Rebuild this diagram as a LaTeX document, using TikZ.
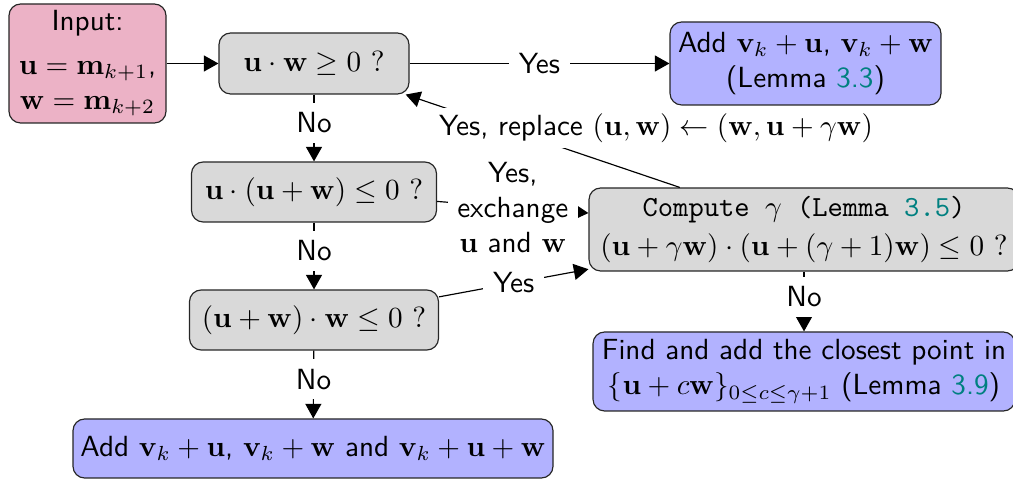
\documentclass[tikz,border=0pt]{standalone}
\usetikzlibrary{arrows.meta}
\definecolor{lemmacol}{rgb}{0,0.5,0.5}
\def\PX{0.343pt}
\begin{document}
\begin{tikzpicture}[x=0.343pt,y=-0.343pt,font=\sffamily,
  box/.style={draw=black!85, rounded corners=4pt, align=center, inner sep=0pt},
  inbox/.style={box, fill=purple!30},
  qbox/.style={box, fill=gray!30},
  abox/.style={box, fill=blue!30},
  lbl/.style={fill=white, font=\sffamily, align=center},
  arr/.style={-{Triangle[length=5pt,width=5.5pt]}}]
\useasboundingbox (0,0) rectangle (1013,479);
\node[inbox, minimum width=157*\PX, minimum height=119*\PX] (inp) at (87.5,63.5)
  {Input:\\[3pt] $\mathbf u=\mathbf m_{k+1}$,\\ $\mathbf w=\mathbf m_{k+2}$};
\node[qbox, minimum width=190*\PX, minimum height=61*\PX] (q1) at (314,63.5)
  {$\mathbf u\cdot\mathbf w\ge 0\ ?$};
\node[abox, minimum width=271*\PX, minimum height=83*\PX] (add1) at (805.5,63.5)
  {Add $\mathbf v_k+\mathbf u$, $\mathbf v_k+\mathbf w$\\ (Lemma \textcolor{lemmacol}{3.3})};
\node[qbox, minimum width=245*\PX, minimum height=60*\PX] (q2) at (314,192)
  {$\mathbf u\cdot(\mathbf u+\mathbf w)\le 0\ ?$};
\node[qbox, minimum width=249*\PX, minimum height=60*\PX] (q3) at (314,320)
  {$(\mathbf u+\mathbf w)\cdot\mathbf w\le 0\ ?$};
\node[abox, minimum width=480*\PX, minimum height=59*\PX] (add2) at (313,448.5)
  {Add $\mathbf v_k+\mathbf u$, $\mathbf v_k+\mathbf w$ and $\mathbf v_k+\mathbf u+\mathbf w$};
\node[qbox, minimum width=430*\PX, minimum height=83*\PX] (comp) at (804,229.5)
  {\texttt{Compute $\gamma$ (Lemma \textcolor{lemmacol}{3.5})}\\[1.5pt]
   $(\mathbf u+\gamma\mathbf w)\cdot(\mathbf u+(\gamma+1)\mathbf w)\le 0\ ?$};
\node[abox, minimum width=422*\PX, minimum height=79*\PX] (find) at (804,371.5)
  {Find and add the closest point in\\
   $\{\mathbf u+c\mathbf w\}_{0\le c\le\gamma+1}$ (Lemma \textcolor{lemmacol}{3.9})};
\draw[arr] (inp) -- (q1);
\draw[arr] (q1) -- node[lbl]{Yes} (add1);
\draw[arr] (q1) -- node[lbl,pos=0.42]{No} (q2);
\draw[arr] (q2) -- node[lbl,pos=0.42]{No} (q3);
\draw[arr] (q3) -- node[lbl,pos=0.42]{No} (add2);
\draw[arr] (comp) -- node[lbl,pos=0.42]{No} (find);
\draw[arr] (q2) -- node[lbl]{Yes,\\ exchange\\ $\mathbf u$ and $\mathbf w$} (comp);
\draw[arr] (q3) -- node[lbl]{Yes} (comp);
\draw[arr] (comp) -- (q1);
\node[lbl, inner ysep=2pt] (rep) at (656,128)
  {Yes, replace $(\mathbf u,\mathbf w)\leftarrow(\mathbf w,\mathbf u+\gamma\mathbf w)$};
\end{tikzpicture}
\end{document}
